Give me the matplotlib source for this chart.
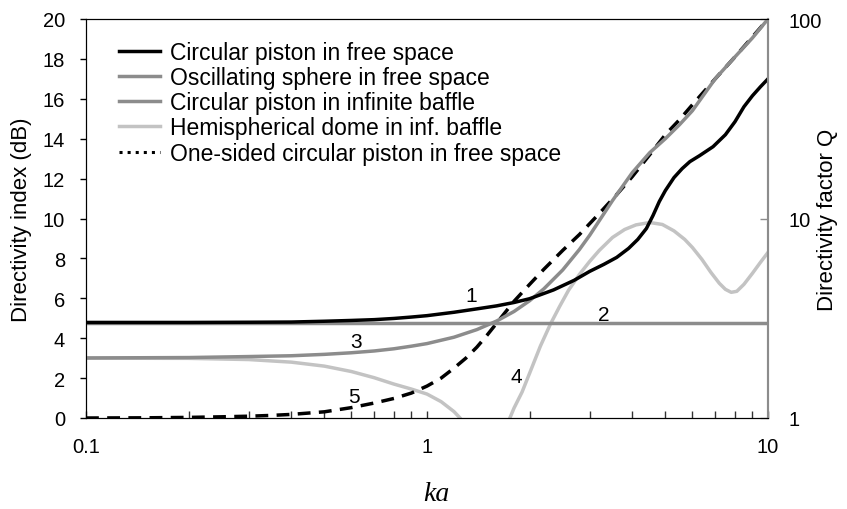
import numpy as np
import matplotlib
matplotlib.use('Agg')
import matplotlib.pyplot as plt
from matplotlib.lines import Line2D
from matplotlib.ticker import FixedLocator, NullFormatter

plt.rcParams['font.family'] = ['Liberation Sans', 'DejaVu Sans']

# 1 - circular piston in free space
ka_1 = [0.1, 0.2, 0.3, 0.4, 0.5, 0.6, 0.7, 0.8, 0.9, 1.0, 1.2, 1.4, 1.6, 1.8, 2.0,
        2.35, 2.7, 3.0, 3.3, 3.6, 3.9, 4.15, 4.4, 4.6, 4.8, 5.0, 5.3, 5.6, 5.9, 6.3,
        6.9, 7.5, 8.0, 8.5, 9.0, 9.5, 10.0]
di_1 = [4.79, 4.79, 4.8, 4.81, 4.85, 4.89, 4.93, 4.99, 5.06, 5.13, 5.3, 5.47, 5.62, 5.79, 5.98,
        6.42, 6.9, 7.35, 7.7, 8.05, 8.5, 8.95, 9.5, 10.15, 10.85, 11.4, 12.05, 12.5, 12.85, 13.15,
        13.6, 14.2, 14.85, 15.6, 16.15, 16.6, 17.0]

# 2 - oscillating sphere in free space
ka_2 = [0.1, 10.0]
di_2 = [4.77, 4.77]

# 3 - circular piston in infinite baffle
ka_3 = [0.1, 0.2, 0.3, 0.4, 0.5, 0.6, 0.7, 0.8, 0.9, 1.0, 1.2, 1.4, 1.6, 1.8, 2.0,
        2.2, 2.5, 2.8, 3.0, 3.5, 4.0, 4.5, 5.0, 5.5, 6.0, 7.0, 8.0, 9.0, 10.0]
di_3 = [3.01, 3.03, 3.08, 3.12, 3.19, 3.27, 3.36, 3.47, 3.6, 3.73, 4.05, 4.43, 4.86, 5.34, 5.88,
        6.47, 7.42, 8.45, 9.16, 10.9, 12.3, 13.3, 14.0, 14.7, 15.4, 17.0, 18.1, 19.05, 20.0]

# 4 - hemispherical dome in infinite baffle
ka_4 = [0.1, 0.2, 0.3, 0.4, 0.5, 0.6, 0.7, 0.8, 0.9, 1.0, 1.1, 1.2, 1.25, 1.35, 1.5,
        1.65, 1.75, 1.8, 1.9, 2.0, 2.15, 2.3, 2.45, 2.6, 2.8, 3.0, 3.2, 3.5, 3.8, 4.1,
        4.5, 4.9, 5.3, 5.7, 6.0, 6.4, 6.8, 7.2, 7.5, 7.8, 8.1, 8.5, 9.0, 9.5, 10.0]
di_4 = [3.0, 2.99, 2.93, 2.8, 2.6, 2.33, 2.02, 1.7, 1.45, 1.2, 0.82, 0.32, 0.0, -0.8, -1.5,
        -0.9, 0.0, 0.5, 1.3, 2.25, 3.6, 4.7, 5.6, 6.4, 7.2, 7.85, 8.4, 9.05, 9.45, 9.68,
        9.8, 9.7, 9.38, 8.95, 8.55, 7.95, 7.3, 6.75, 6.45, 6.3, 6.35, 6.7, 7.25, 7.8, 8.3]

# 5 - one-sided circular piston in free space
ka_5 = [0.1, 0.15, 0.2, 0.25, 0.3, 0.35, 0.4, 0.5, 0.6, 0.7, 0.8, 0.9, 1.0, 1.1, 1.2,
        1.3, 1.4, 1.5, 1.6, 1.8, 2.0, 2.2, 2.5, 2.8, 3.2, 3.6, 4.0, 4.5, 5.0, 5.5,
        6.0, 7.0, 8.0, 9.0, 10.0]
di_5 = [0.0, 0.01, 0.03, 0.06, 0.09, 0.13, 0.18, 0.31, 0.52, 0.75, 0.98, 1.25, 1.6, 2.0, 2.5,
        3.0, 3.55, 4.15, 4.75, 5.85, 6.7, 7.45, 8.4, 9.2, 10.25, 11.2, 12.1, 13.2, 14.2, 14.95,
        15.7, 17.0, 18.1, 19.1, 20.0]

legend_labels = ['Circular piston in free space',
                 'Oscillating sphere in free space',
                 'Circular piston in infinite baffle',
                 'Hemispherical dome in inf. baffle',
                 'One-sided circular piston in free space']

curve_tags = ['1', '2', '3', '4', '5']
tag_ka = [1.35, 3.29, 0.62, 1.83, 0.61]
tag_di = [6.15, 5.2, 3.85, 2.1, 1.1]

black = '#000000'
mid = '#8c8c8c'
light = '#c3c3c3'

fig = plt.figure(figsize=(8.47, 5.10), dpi=100)
ax = fig.add_axes([86/847, 91/510, 682/847, 399/510])

ax.plot(ka_4, di_4, color=light, lw=2.5, zorder=2)
ax.plot(ka_5, di_5, color=black, lw=2.5, dashes=(3.7, 2.4), zorder=3)
ax.plot(ka_2, di_2, color=mid, lw=2.5, zorder=4)
ax.plot(ka_3, di_3, color=mid, lw=2.5, zorder=5)
ax.plot(ka_1, di_1, color=black, lw=2.5, zorder=6)

for t, x, y in zip(curve_tags, tag_ka, tag_di):
    ax.text(x, y, t, fontsize=15, ha='center', va='center', zorder=7)

ax.set_xscale('log')
ax.set_xlim(0.1, 10)
ax.set_ylim(0, 20)
ax.set_yticks(np.arange(0, 21, 2))
ax.set_xticks([0.1, 1, 10])
ax.set_xticklabels(['0.1', '1', '10'])
ax.xaxis.set_minor_locator(FixedLocator([0.2, 0.3, 0.4, 0.5, 0.6, 0.7, 0.8, 0.9,
                                         2, 3, 4, 5, 6, 7, 8, 9]))
ax.xaxis.set_minor_formatter(NullFormatter())
ax.tick_params(axis='x', which='both', direction='in', length=5, width=1,
               color='#333333', labelsize=14.5, pad=14)
ax.tick_params(axis='y', direction='out', length=4, width=1, labelsize=14.5, pad=11)
ax.spines['right'].set_color(mid)
ax.spines['right'].set_linewidth(1.5)

ax.set_ylabel('Directivity index (dB)', fontsize=16, va='center')
ax.yaxis.set_label_coords(-0.094, 0.5)
ax.set_xlabel('ka', fontsize=20, family='Liberation Serif', style='italic', va='center')
ax.xaxis.set_label_coords(0.513, -0.19)

ax2 = ax.twinx()
ax2.set_position(ax.get_position())
ax2.set_yscale('log')
ax2.set_ylim(1, 100)
ax2.set_yticks([1, 10, 100])
ax2.set_yticklabels(['1', '10', '100'])
ax2.yaxis.set_minor_formatter(NullFormatter())
ax2.tick_params(axis='y', which='minor', length=0)
ax2.tick_params(axis='y', which='major', direction='in', length=6, width=1,
                color=mid, labelsize=14.5, pad=15)
ax2.spines['right'].set_color(mid)
ax2.spines['right'].set_linewidth(1.5)
ax2.set_ylabel('Directivity factor Q', fontsize=16, rotation=90, va='center')
ax2.yaxis.set_label_coords(1.0875, 0.5)

handles = [Line2D([], [], color=black, lw=2.5),
           Line2D([], [], color=mid, lw=2.5),
           Line2D([], [], color=mid, lw=2.5),
           Line2D([], [], color=light, lw=2.5),
           Line2D([], [], color=black, lw=2.2, linestyle=':')]
ax.legend(handles, legend_labels, loc='upper left', bbox_to_anchor=(0.048, 0.946),
          frameon=False, fontsize=16.5, handlelength=1.8, handletextpad=0.45,
          labelspacing=0.1, borderaxespad=0, borderpad=0)

fig.savefig('out.png', dpi=100)
